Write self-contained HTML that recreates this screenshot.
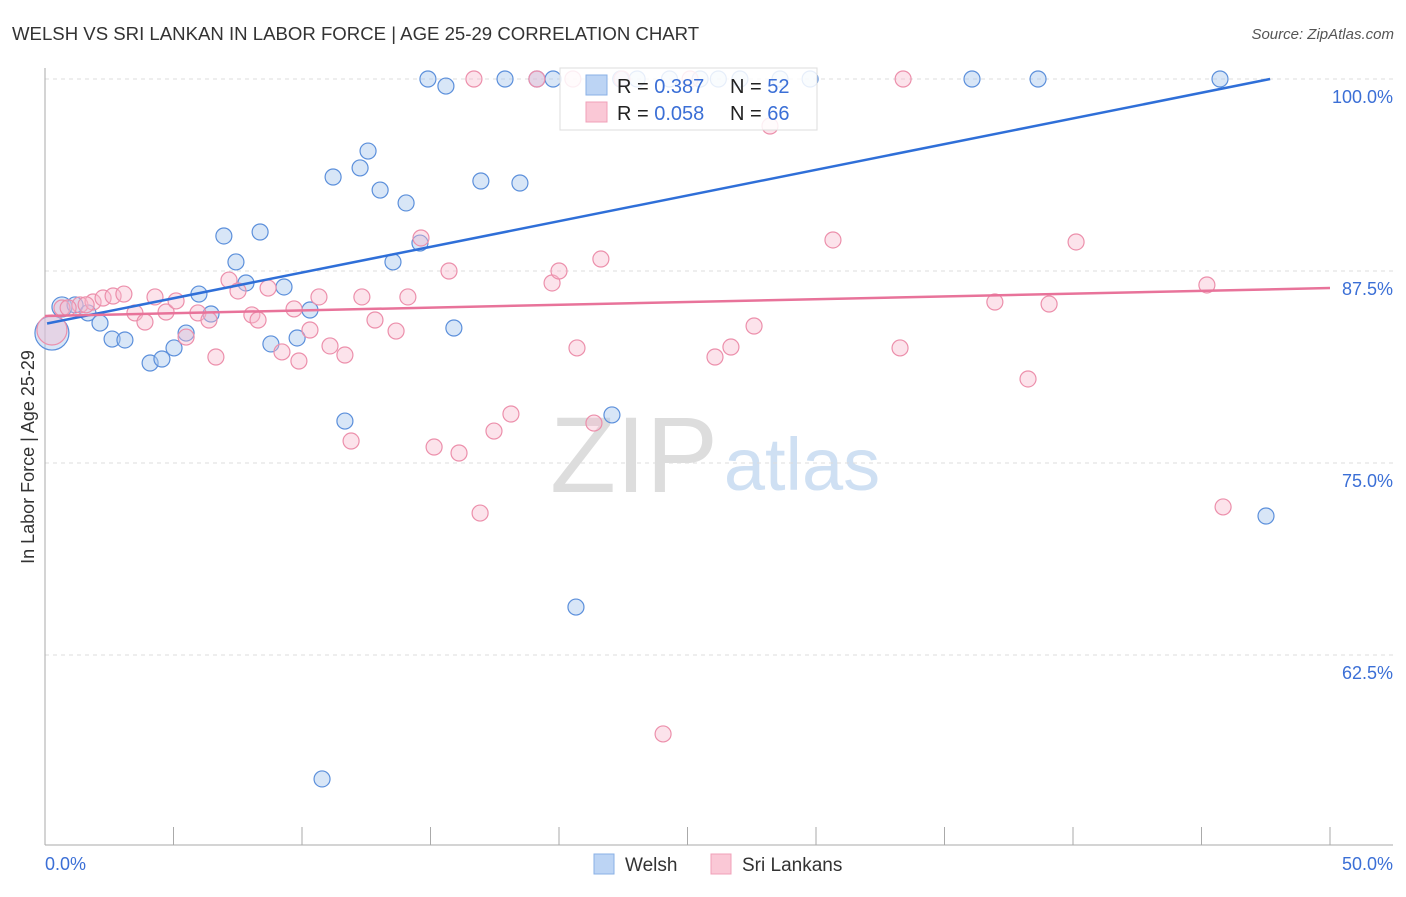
<!DOCTYPE html>
<html><head><meta charset="utf-8"><style>
body{margin:0;background:#fff;font-family:"Liberation Sans",sans-serif;}
svg text{font-family:"Liberation Sans",sans-serif;}
</style></head><body>
<svg id="chart" width="1406" height="892" xmlns="http://www.w3.org/2000/svg">
<text x="12" y="40" font-size="18.6" fill="#333">WELSH VS SRI LANKAN IN LABOR FORCE | AGE 25-29 CORRELATION CHART</text>
<text x="1394" y="39" font-size="15" fill="#555" font-style="italic" text-anchor="end">Source: ZipAtlas.com</text>
<text x="634" y="492" font-size="108" fill="#ddd" font-family="Liberation Serif" text-anchor="middle">ZIP</text>
<text x="802" y="490" font-size="74" fill="#cfe0f3" text-anchor="middle">atlas</text>
<text transform="translate(34,457) rotate(-90)" font-size="18" fill="#333" text-anchor="middle">In Labor Force | Age 25-29</text>
<g id="grid"></g><g id="pts"></g><g id="lines"></g>
<g>
<rect x="560" y="68" width="257" height="62" fill="#fff" fill-opacity="0.85" stroke="#ddd"/>
<rect x="586" y="75" width="21" height="20" fill="#bcd4f4" stroke="#8ab0e6"/>
<rect x="586" y="102" width="21" height="20" fill="#fac8d6" stroke="#f0a0b8"/>
<text x="617" y="93" font-size="20" fill="#222">R = <tspan fill="#3b6fd6">0.387</tspan><tspan x="730">N = </tspan><tspan fill="#3b6fd6">52</tspan></text>
<text x="617" y="120" font-size="20" fill="#222">R = <tspan fill="#3b6fd6">0.058</tspan><tspan x="730">N = </tspan><tspan fill="#3b6fd6">66</tspan></text>
</g>
<g>
<rect x="594" y="854" width="20" height="20" fill="#bcd4f4" stroke="#8ab0e6"/>
<text x="625" y="871" font-size="19" fill="#333">Welsh</text>
<rect x="711" y="854" width="20" height="20" fill="#fac8d6" stroke="#f0a0b8"/>
<text x="742" y="871" font-size="19" fill="#333">Sri Lankans</text>
</g>
</svg>
<script>
const yTicks=[100,87.5,75,62.5];
const yTickLabels=["100.0%","87.5%","75.0%","62.5%"];
const xTickLabels=["0.0%","50.0%"];
const welshX=[0.66,1.17,1.67,2.14,2.61,3.11,4.09,4.55,5.02,5.49,5.99,6.46,6.96,7.43,7.82,8.37,8.79,9.30,9.81,10.31,10.78,11.21,11.67,12.26,12.57,13.04,13.54,14.05,14.59,14.90,15.60,15.91,16.96,17.90,18.48,19.14,19.77,20.66,22.06,23.04,25.49,27.04,28.6,29.77,36.07,38.64,45.72,47.51,0.27,22.4,24.3,26.2];
const welshY=[85.16,85.29,84.77,84.11,83.07,83.01,81.51,81.77,82.49,83.46,86.0,84.70,89.78,88.09,86.72,90.04,82.75,86.46,83.14,84.96,54.43,93.62,77.73,94.21,95.31,92.77,88.09,91.93,89.32,100,99.54,83.79,93.36,100,93.23,100,100,65.62,78.13,100,100,100,100,100,100,100,100,71.55,83.46,100,100,100];
const welshR=[10,8,8,8,8,8,8,8,8,8,8,8,8,8,8,8,8,8,8,8,8,8,8,8,8,8,8,8,8,8,8,8,8,8,8,8,8,8,8,8,8,8,8,8,8,8,8,8,17,8,8,8];
const sriX=[0.27,0.66,1.36,1.87,2.26,2.65,3.07,3.50,3.89,4.28,4.71,5.10,5.49,5.95,6.38,6.65,7.16,7.51,8.05,8.29,8.68,9.22,9.69,9.88,10.31,10.66,11.09,11.67,11.91,12.33,12.84,13.66,14.12,14.63,15.14,15.72,16.11,16.69,16.93,17.47,18.13,19.73,20.0,20.54,20.70,21.36,21.63,22.45,24.05,25.1,26.07,26.69,27.59,28.21,30.66,33.27,33.39,36.96,38.25,39.07,40.12,45.21,45.84,19.14,0.9,1.6];
const sriY=[83.66,85.09,85.29,85.48,85.74,85.87,86.0,84.77,84.18,85.81,84.83,85.55,83.2,84.77,84.31,81.9,86.91,86.2,84.64,84.31,86.39,82.23,85.03,81.64,83.66,85.81,82.62,82.03,76.43,85.81,84.31,83.59,85.81,89.65,76.04,87.5,75.65,100,71.74,77.08,78.19,86.72,87.5,100,82.49,77.6,88.28,100,57.36,100,81.9,82.55,83.92,96.94,89.52,82.49,100,85.48,80.47,85.35,89.39,86.59,72.14,100,85.1,85.3];
const sriR=[15].concat(Array(65).fill(8));
const welshTrend=[84.08,100.0],welshTrendX=[0.08,47.67];
const sriTrend=[84.57,86.39],sriTrendX=[0,50];
const NS="http://www.w3.org/2000/svg";
const sx=v=>45+v*25.7, sy=v=>79+(100-v)*15.36;
function mk(p,t,a){const e=document.createElementNS(NS,t);for(const k in a)e.setAttribute(k,a[k]);p.appendChild(e);return e;}
const g=document.getElementById('grid');
yTicks.forEach((t,i)=>{
 const l=mk(g,'line',{x1:45,x2:1393,y1:sy(t),y2:sy(t),stroke:'#ddd','stroke-dasharray':'4,4'});
 
 
 const tx=mk(g,'text',{x:1393,y:sy(t)+24,'font-size':18,fill:'#3b6fd6','text-anchor':'end'});
 tx.textContent=yTickLabels[i];
 
 
});
mk(g,'line',{x1:45,x2:45,y1:68,y2:845,stroke:'#aaa'});
mk(g,'line',{x1:45,x2:1393,y1:845,y2:845,stroke:'#aaa'});
for(let i=0;i<=10;i++){const x=sx(i*5);const t=mk(g,'line',{x1:x,x2:x,y1:827,y2:845,stroke:'#aaa'});
 
 }
[[0,'start'],[50,'end']].forEach((p,i)=>{const t=mk(g,'text',{x:i?1393:45,y:870,'font-size':18,fill:'#3b6fd6','text-anchor':p[1]});t.textContent=xTickLabels[i];
 
 });
const pg=document.getElementById('pts');
welshX.forEach((x,i)=>{const c=mk(pg,'circle',{cx:sx(x),cy:sy(welshY[i]),r:welshR[i],fill:'#a9c7ee','fill-opacity':0.45,stroke:'#5b8fdb','stroke-width':1.2});
 
 });
sriX.forEach((x,i)=>{const c=mk(pg,'circle',{cx:sx(x),cy:sy(sriY[i]),r:sriR[i],fill:'#f8b9cc','fill-opacity':0.4,stroke:'#ec8fab','stroke-width':1.2});
 
 });
const lg=document.getElementById('lines');
const b=mk(lg,'line',{x1:sx(welshTrendX[0]),y1:sy(welshTrend[0]),x2:sx(welshTrendX[1]),y2:sy(welshTrend[1]),stroke:'#2f6fd8','stroke-width':2.5});


const p=mk(lg,'line',{x1:sx(sriTrendX[0]),y1:sy(sriTrend[0]),x2:sx(sriTrendX[1]),y2:sy(sriTrend[1]),stroke:'#e8739a','stroke-width':2.5});


</script>
</body></html>
